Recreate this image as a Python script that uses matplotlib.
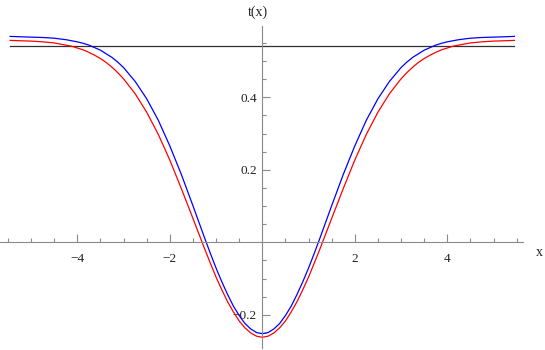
import matplotlib
matplotlib.use("Agg")
import matplotlib.pyplot as plt
from matplotlib.ticker import FixedLocator, FixedFormatter

# abscisses (plus serrees la ou la courbe tourne)
x = [-5.45, -5.25, -5.0, -4.75, -4.5, -4.375, -4.25, -4.125, -4.0, -3.875,
     -3.75, -3.625, -3.5, -3.375, -3.25, -3.125, -3.0, -2.75, -2.5, -2.25,
     -2.0, -1.75, -1.5, -1.25, -1.125, -1.0, -0.875, -0.75, -0.625, -0.5,
     -0.375, -0.25, -0.125,
     0.0,
     0.125, 0.25, 0.375, 0.5, 0.625, 0.75, 0.875, 1.0, 1.125, 1.25,
     1.5, 1.75, 2.0, 2.25, 2.5, 2.75, 3.0, 3.125, 3.25, 3.375,
     3.5, 3.625, 3.75, 3.875, 4.0, 4.125, 4.25, 4.375, 4.5, 4.75,
     5.0, 5.25, 5.45]

# courbe bleue
t_bleu = [0.568, 0.567, 0.566, 0.565, 0.563, 0.561, 0.559, 0.556, 0.553, 0.549,
          0.544, 0.537, 0.530, 0.520, 0.510, 0.497, 0.482, 0.444, 0.396, 0.337,
          0.266, 0.187, 0.101, 0.013, -0.030, -0.071, -0.109, -0.144, -0.176, -0.202,
          -0.224, -0.239, -0.249,
          -0.252,
          -0.249, -0.239, -0.224, -0.202, -0.176, -0.144, -0.109, -0.071, -0.030, 0.013,
          0.101, 0.187, 0.266, 0.337, 0.396, 0.444, 0.482, 0.497, 0.510, 0.520,
          0.530, 0.537, 0.544, 0.549, 0.553, 0.556, 0.559, 0.561, 0.563, 0.565,
          0.566, 0.567, 0.568]

# courbe rouge
t_rouge = [0.557, 0.556, 0.555, 0.553, 0.550, 0.547, 0.544, 0.541, 0.536, 0.531,
           0.524, 0.516, 0.507, 0.496, 0.483, 0.468, 0.451, 0.410, 0.359, 0.298,
           0.227, 0.148, 0.066, -0.017, -0.057, -0.096, -0.131, -0.164, -0.192, -0.217,
           -0.236, -0.250, -0.259,
           -0.262,
           -0.259, -0.250, -0.236, -0.217, -0.192, -0.164, -0.131, -0.096, -0.057, -0.017,
           0.066, 0.148, 0.227, 0.298, 0.359, 0.410, 0.451, 0.468, 0.483, 0.496,
           0.507, 0.516, 0.524, 0.531, 0.536, 0.541, 0.544, 0.547, 0.550, 0.553,
           0.555, 0.556, 0.557]

# niveau horizontal (noir)
niveau = 0.5427
x_niveau = [-5.45, 5.45]

# graduations
x_major = [-4, -2, 2, 4]
x_labels = ["\u22124", "\u22122", "2", "4"]
x_minor = [-5.5, -5.0, -4.5, -3.5, -3.0, -2.5, -1.5, -1.0, -0.5,
           0.5, 1.0, 1.5, 2.5, 3.0, 3.5, 4.5, 5.0, 5.5]
y_major = [-0.2, 0.2, 0.4]
y_labels = ["\u22120.2", "0.2", "0.4"]
y_minor = [-0.25, -0.15, -0.1, -0.05, 0.05, 0.1, 0.15, 0.25, 0.3, 0.35,
           0.45, 0.5, 0.55]

plt.rcParams['font.family'] = ['Liberation Serif', 'DejaVu Serif']
gris = '#8a8a8a'

fig = plt.figure(figsize=(5.45, 3.5), dpi=100)
ax = fig.add_axes([0, 0, 1, 1])
ax.set_xlim(-5.671, 6.112)
ax.set_ylim(-0.2971, 0.6684)

# les courbes
ax.plot(x_niveau, [niveau, niveau], color='#303030', linewidth=0.9)
ax.plot(x, t_rouge, color='#ff0000', linewidth=0.9)
ax.plot(x, t_bleu, color='#0000ff', linewidth=0.9)

# axes au centre, facon Mathematica
ax.spines['top'].set_visible(False)
ax.spines['right'].set_visible(False)
ax.spines['left'].set_position(('data', 0))
ax.spines['bottom'].set_position(('data', 0))
ax.spines['left'].set_bounds(-0.292, 0.597)
ax.spines['bottom'].set_bounds(-5.671, 5.637)
for s in ['left', 'bottom']:
    ax.spines[s].set_color(gris)
    ax.spines[s].set_linewidth(0.8)

ax.xaxis.set_major_locator(FixedLocator(x_major))
ax.xaxis.set_major_formatter(FixedFormatter(x_labels))
ax.xaxis.set_minor_locator(FixedLocator(x_minor))
ax.yaxis.set_major_locator(FixedLocator(y_major))
ax.yaxis.set_major_formatter(FixedFormatter(y_labels))
ax.yaxis.set_minor_locator(FixedLocator(y_minor))

ax.tick_params(which='both', direction='in', color=gris, width=0.8,
               labelsize=9.5, labelcolor='#222222')
ax.tick_params(which='major', length=5.5)
ax.tick_params(which='minor', length=3)
ax.tick_params(axis='x', which='major', pad=8)
ax.tick_params(axis='y', which='major', pad=4)

# etiquettes des axes
ax.text(5.99, -0.027, "x", fontsize=10, ha='center', va='center', color='#222222')
ax.text(-0.1, 0.635, "t(x)", fontsize=10, ha='center', va='center', color='#222222')

fig.savefig("out.png", dpi=100)
